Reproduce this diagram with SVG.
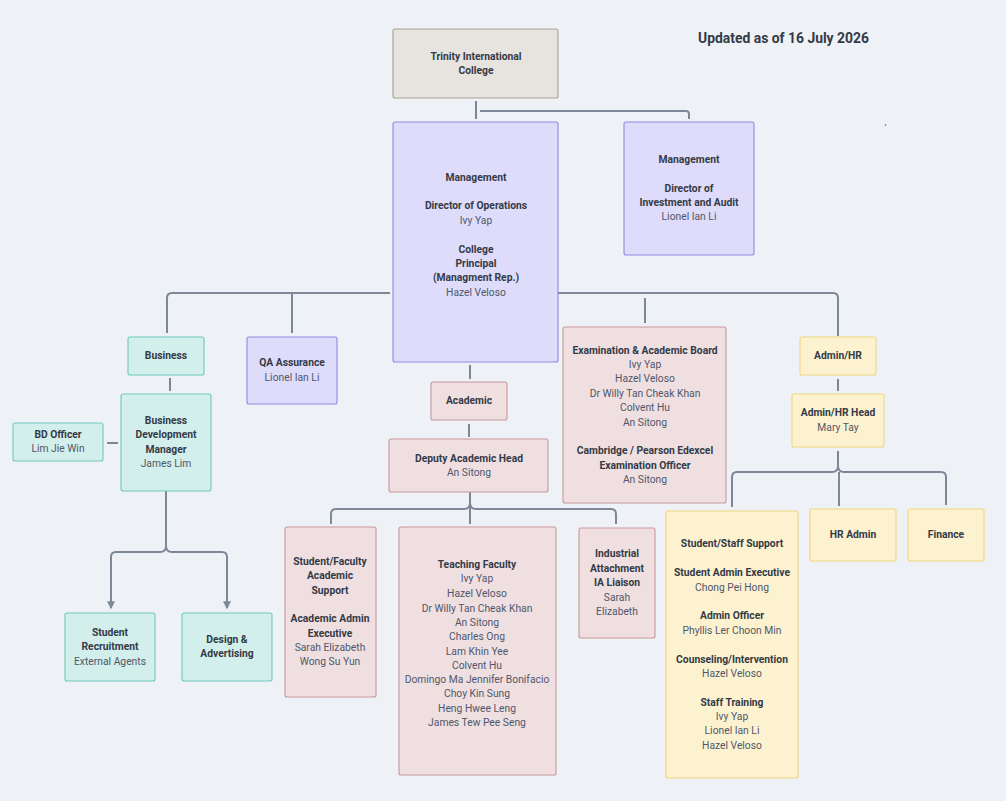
<svg xmlns="http://www.w3.org/2000/svg" width="1006" height="801" viewBox="0 0 1006 801">
<defs>
<marker id="arr" viewBox="0 0 6 6" refX="5" refY="3" markerWidth="4" markerHeight="4" orient="auto">
<path d="M0 0 L6 3 L0 6 Z" fill="#7c8896"/>
</marker>
</defs>
<style>
text{font-family:Roboto,"Liberation Sans",sans-serif;font-size:10.3px;text-anchor:middle}
.b{font-weight:bold;fill:#343a46}
.r{fill:#50576a}
.title{font-size:13.9px;font-weight:bold;fill:#343a46;text-anchor:start}
.n rect{stroke-width:1.1}
.gray rect{fill:#e7e3de;stroke:#aaa096}
.lav rect{fill:#dedcfa;stroke:#8f89e3}
.teal rect{fill:#d2efeb;stroke:#70c9bd}
.pink rect{fill:#efdfe1;stroke:#c9979b}
.yel rect{fill:#fdf2d0;stroke:#f2d57f}
#connectors path{fill:none;stroke:#7c8896;stroke-width:2}
</style>
<rect width="1006" height="801" fill="#eef2f6"/>
<text class="title" x="698" y="43">Updated as of 16 July 2026</text>
<circle cx="885.5" cy="125" r="0.8" fill="#4a6fa5"/>

<g id="connectors">
<path d="M476 101 V119"/>
<path d="M480 111 H686 Q689 111 689 114 V119"/>
<path d="M390 293 H172 Q167 293 167 298 V333"/>
<path d="M292 293 V333"/>
<path d="M558 293 H833 Q838 293 838 298 V336"/>
<path d="M645 298 V323"/>
<path d="M470 365 V379"/>
<path d="M469 424 V437"/>
<path d="M470 492 V524"/>
<path d="M470 503 Q470 509 464 509 H336 Q331 509 331 514 V524"/>
<path d="M470 503 Q470 509 476 509 H611 Q616 509 616 514 V524"/>
<path d="M170 378 V391"/>
<path d="M107 443 H118"/>
<path d="M166 491 V546"/>
<path d="M166 546 Q166 552 160 552 H116 Q111 552 111 557 V608" marker-end="url(#arr)"/>
<path d="M166 546 Q166 552 172 552 H222 Q227 552 227 557 V608" marker-end="url(#arr)"/>
<path d="M838 379 V391"/>
<path d="M838 451 V466"/>
<path d="M838 466 Q838 472 832 472 H737 Q732 472 732 477 V507"/>
<path d="M838 466 Q838 472 844 472 H941 Q946 472 946 477 V505"/>
<path d="M839 472 V506"/>
</g>

<g id="trinity" class="n gray">
<rect x="393" y="29" width="165" height="69" rx="2"/>
<text class="b" x="476" y="60">Trinity International</text>
<text class="b" x="476" y="74">College</text>
</g>

<g id="management-main" class="n lav">
<rect x="393" y="122" width="165" height="240" rx="2"/>
<text class="b" x="476" y="181">Management</text>
<text class="b" x="476" y="209">Director of Operations</text>
<text class="r" x="476" y="224">Ivy Yap</text>
<text class="b" x="476" y="253">College</text>
<text class="b" x="476" y="267">Principal</text>
<text class="b" x="476" y="281">(Managment Rep.)</text>
<text class="r" x="476" y="296">Hazel Veloso</text>
</g>

<g id="management-right" class="n lav">
<rect x="624" y="122" width="130" height="133" rx="2"/>
<text class="b" x="689" y="163">Management</text>
<text class="b" x="689" y="192">Director of</text>
<text class="b" x="689" y="206">Investment and Audit</text>
<text class="r" x="689" y="220">Lionel Ian Li</text>
</g>

<g id="business" class="n teal">
<rect x="128" y="337" width="76" height="38" rx="2"/>
<text class="b" x="166" y="359">Business</text>
</g>

<g id="qa" class="n lav">
<rect x="247" y="337" width="90" height="67" rx="2"/>
<text class="b" x="292" y="366">QA Assurance</text>
<text class="r" x="292" y="381">Lionel Ian Li</text>
</g>

<g id="bdm" class="n teal">
<rect x="121" y="394" width="90" height="97" rx="2"/>
<text class="b" x="166" y="424">Business</text>
<text class="b" x="166" y="438">Development</text>
<text class="b" x="166" y="453">Manager</text>
<text class="r" x="166" y="467">James Lim</text>
</g>

<g id="bd-officer" class="n teal">
<rect x="13" y="423" width="90" height="38" rx="2"/>
<text class="b" x="58" y="438">BD Officer</text>
<text class="r" x="58" y="452">Lim Jie Win</text>
</g>

<g id="student-recruitment" class="n teal">
<rect x="65" y="613" width="90" height="68" rx="2"/>
<text class="b" x="110" y="636">Student</text>
<text class="b" x="110" y="650">Recruitment</text>
<text class="r" x="110" y="665">External Agents</text>
</g>

<g id="design" class="n teal">
<rect x="182" y="613" width="90" height="68" rx="2"/>
<text class="b" x="227" y="643">Design &amp;</text>
<text class="b" x="227" y="657">Advertising</text>
</g>

<g id="academic" class="n pink">
<rect x="431" y="382" width="76" height="38" rx="2"/>
<text class="b" x="469" y="404">Academic</text>
</g>

<g id="deputy" class="n pink">
<rect x="389" y="439" width="159" height="53" rx="2"/>
<text class="b" x="469" y="462">Deputy Academic Head</text>
<text class="r" x="469" y="476">An Sitong</text>
</g>

<g id="exam-board" class="n pink">
<rect x="563" y="327" width="163" height="176" rx="2"/>
<text class="b" x="645" y="354">Examination &amp; Academic Board</text>
<text class="r" x="645" y="368">Ivy Yap</text>
<text class="r" x="645" y="382">Hazel Veloso</text>
<text class="r" x="645" y="397">Dr Willy Tan Cheak Khan</text>
<text class="r" x="645" y="411">Colvent Hu</text>
<text class="r" x="645" y="426">An Sitong</text>
<text class="b" x="645" y="454">Cambridge / Pearson Edexcel</text>
<text class="b" x="645" y="469">Examination Officer</text>
<text class="r" x="645" y="483">An Sitong</text>
</g>

<g id="admin-hr" class="n yel">
<rect x="800" y="337" width="76" height="38" rx="2"/>
<text class="b" x="838" y="359">Admin/HR</text>
</g>

<g id="admin-hr-head" class="n yel">
<rect x="792" y="394" width="92" height="53" rx="2"/>
<text class="b" x="838" y="416">Admin/HR Head</text>
<text class="r" x="838" y="431">Mary Tay</text>
</g>

<g id="academic-support" class="n pink">
<rect x="285" y="527" width="91" height="170" rx="2"/>
<text class="b" x="330" y="565">Student/Faculty</text>
<text class="b" x="330" y="579">Academic</text>
<text class="b" x="330" y="594">Support</text>
<text class="b" x="330" y="622">Academic Admin</text>
<text class="b" x="330" y="637">Executive</text>
<text class="r" x="330" y="651">Sarah Elizabeth</text>
<text class="r" x="330" y="665">Wong Su Yun</text>
</g>

<g id="teaching-faculty" class="n pink">
<rect x="399" y="527" width="157" height="248" rx="2"/>
<text class="b" x="477" y="568">Teaching Faculty</text>
<text class="r" x="477" y="582">Ivy Yap</text>
<text class="r" x="477" y="597">Hazel Veloso</text>
<text class="r" x="477" y="612">Dr Willy Tan Cheak Khan</text>
<text class="r" x="477" y="626">An Sitong</text>
<text class="r" x="477" y="640">Charles Ong</text>
<text class="r" x="477" y="655">Lam Khin Yee</text>
<text class="r" x="477" y="669">Colvent Hu</text>
<text class="r" x="477" y="683">Domingo Ma Jennifer Bonifacio</text>
<text class="r" x="477" y="697">Choy Kin Sung</text>
<text class="r" x="477" y="712">Heng Hwee Leng</text>
<text class="r" x="477" y="726">James Tew Pee Seng</text>
</g>

<g id="industrial" class="n pink">
<rect x="579" y="528" width="76" height="110" rx="2"/>
<text class="b" x="617" y="557">Industrial</text>
<text class="b" x="617" y="572">Attachment</text>
<text class="b" x="617" y="586">IA Liaison</text>
<text class="r" x="617" y="601">Sarah</text>
<text class="r" x="617" y="615">Elizabeth</text>
</g>

<g id="student-staff-support" class="n yel">
<rect x="666" y="511" width="132" height="267" rx="2"/>
<text class="b" x="732" y="547">Student/Staff Support</text>
<text class="b" x="732" y="576">Student Admin Executive</text>
<text class="r" x="732" y="591">Chong Pei Hong</text>
<text class="b" x="732" y="619">Admin Officer</text>
<text class="r" x="732" y="634">Phyllis Ler Choon Min</text>
<text class="b" x="732" y="663">Counseling/Intervention</text>
<text class="r" x="732" y="677">Hazel Veloso</text>
<text class="b" x="732" y="706">Staff Training</text>
<text class="r" x="732" y="720">Ivy Yap</text>
<text class="r" x="732" y="734">Lionel Ian Li</text>
<text class="r" x="732" y="749">Hazel Veloso</text>
</g>

<g id="hr-admin" class="n yel">
<rect x="810" y="509" width="86" height="52" rx="2"/>
<text class="b" x="853" y="538">HR Admin</text>
</g>

<g id="finance" class="n yel">
<rect x="908" y="509" width="76" height="52" rx="2"/>
<text class="b" x="946" y="538">Finance</text>
</g>
</svg>
